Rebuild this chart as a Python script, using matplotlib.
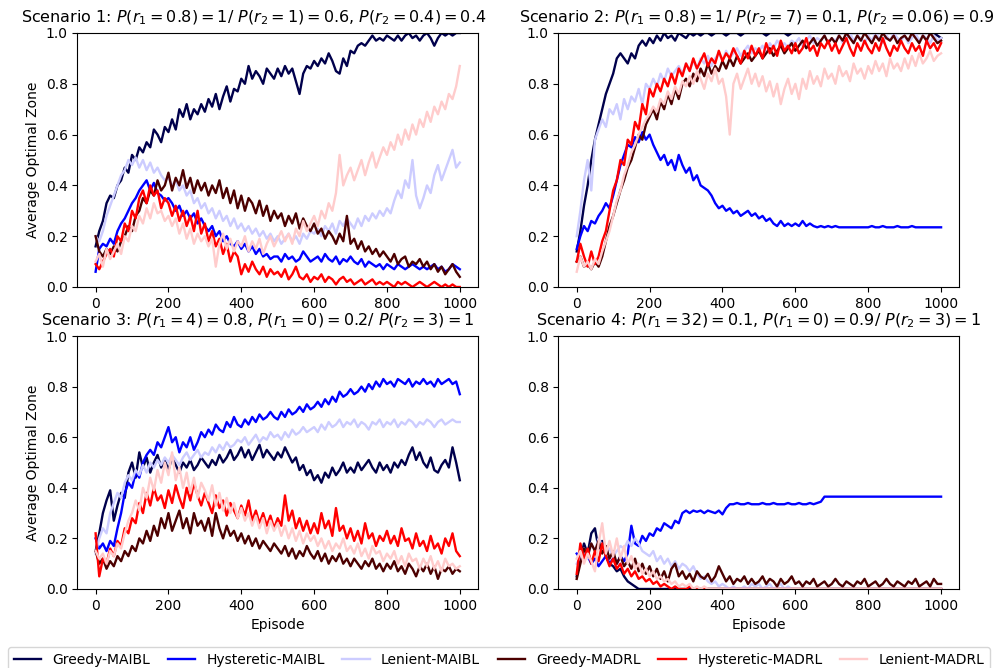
import numpy as np
import matplotlib
matplotlib.use("Agg")
import matplotlib.pyplot as plt

episodes = list(range(0, 1001, 10))

labels = ["Greedy-MAIBL", "Hysteretic-MAIBL", "Lenient-MAIBL",
          "Greedy-MADRL", "Hysteretic-MADRL", "Lenient-MADRL"]
colors = ["#00004c", "#0000ff", "#ccccff", "#4c0000", "#ff0000", "#ffcccc"]

titles = [
    r"Scenario 1: $P(r_1 = 0.8) = 1$/ $P(r_2 = 1) = 0.6$, $P(r_2 = 0.4) = 0.4$",
    r"Scenario 2: $P(r_1 = 0.8) = 1$/ $P(r_2 = 7) = 0.1$, $P(r_2 = 0.06) = 0.9$",
    r"Scenario 3: $P(r_1 = 4) = 0.8$, $P(r_1 = 0) = 0.2$/ $P(r_2 = 3) = 1$",
    r"Scenario 4: $P(r_1 = 32) = 0.1$, $P(r_1 = 0) = 0.9$/ $P(r_2 = 3) = 1$",
]

# ---------------- Scenario 1 ----------------
s1_greedy_maibl = [
    0.16, 0.22, 0.26, 0.33, 0.36, 0.35, 0.40, 0.42, 0.47, 0.45,
    0.52, 0.50, 0.55, 0.53, 0.57, 0.55, 0.62, 0.60, 0.57, 0.63,
    0.61, 0.66, 0.62, 0.70, 0.67, 0.72, 0.66, 0.70, 0.68, 0.72,
    0.69, 0.74, 0.71, 0.76, 0.70, 0.75, 0.79, 0.73, 0.78, 0.77,
    0.82, 0.80, 0.87, 0.82, 0.85, 0.83, 0.80, 0.86, 0.84, 0.82,
    0.86, 0.83, 0.87, 0.84, 0.86, 0.81, 0.76, 0.84, 0.87, 0.86,
    0.89, 0.87, 0.90, 0.88, 0.92, 0.89, 0.85, 0.84, 0.90, 0.87,
    0.93, 0.92, 0.95, 0.96, 0.95, 0.97, 0.99, 0.97, 0.98, 0.97,
    0.99, 0.98, 0.97, 0.99, 0.97, 0.99, 1.00, 0.98, 0.99, 0.97,
    0.99, 1.00, 0.98, 0.95, 0.98, 1.00, 0.99, 1.00, 0.99, 1.00,
    1.00]
s1_hyst_maibl = [
    0.06, 0.15, 0.17, 0.16, 0.19, 0.17, 0.22, 0.25, 0.27, 0.30,
    0.33, 0.35, 0.38, 0.40, 0.42, 0.38, 0.41, 0.37, 0.36, 0.34,
    0.35, 0.33, 0.30, 0.32, 0.28, 0.30, 0.27, 0.29, 0.25, 0.27,
    0.24, 0.22, 0.24, 0.20, 0.22, 0.18, 0.20, 0.17, 0.16, 0.18,
    0.15, 0.17, 0.14, 0.16, 0.13, 0.15, 0.12, 0.13, 0.11, 0.12,
    0.12, 0.10, 0.13, 0.11, 0.12, 0.10, 0.11, 0.14, 0.12, 0.10,
    0.11, 0.12, 0.10, 0.13, 0.11, 0.10, 0.12, 0.09, 0.11, 0.10,
    0.12, 0.10, 0.09, 0.11, 0.08, 0.10, 0.09, 0.08, 0.09, 0.07,
    0.09, 0.08, 0.07, 0.09, 0.08, 0.07, 0.08, 0.09, 0.08, 0.07,
    0.08, 0.07, 0.08, 0.09, 0.07, 0.08, 0.06, 0.07, 0.09, 0.08,
    0.07]
s1_len_maibl = [
    0.20, 0.18, 0.22, 0.28, 0.32, 0.36, 0.40, 0.44, 0.46, 0.50,
    0.48, 0.51, 0.47, 0.50, 0.46, 0.49, 0.45, 0.47, 0.44, 0.42,
    0.43, 0.40, 0.42, 0.38, 0.40, 0.36, 0.38, 0.33, 0.35, 0.31,
    0.33, 0.29, 0.31, 0.27, 0.30, 0.26, 0.28, 0.24, 0.27, 0.23,
    0.25, 0.22, 0.24, 0.21, 0.23, 0.20, 0.22, 0.19, 0.21, 0.18,
    0.20, 0.17, 0.19, 0.21, 0.18, 0.20, 0.17, 0.21, 0.19, 0.22,
    0.21, 0.23, 0.20, 0.24, 0.22, 0.25, 0.21, 0.26, 0.24, 0.27,
    0.25, 0.23, 0.27, 0.24, 0.28, 0.26, 0.29, 0.27, 0.30, 0.28,
    0.31, 0.29, 0.34, 0.38, 0.35, 0.42, 0.39, 0.50, 0.36, 0.31,
    0.35, 0.40, 0.37, 0.44, 0.48, 0.42, 0.46, 0.50, 0.54, 0.47,
    0.49]
s1_greedy_madrl = [
    0.20, 0.14, 0.12, 0.15, 0.13, 0.16, 0.14, 0.18, 0.20, 0.24,
    0.22, 0.28, 0.30, 0.35, 0.33, 0.38, 0.36, 0.42, 0.38, 0.40,
    0.45, 0.38, 0.43, 0.40, 0.46, 0.39, 0.43, 0.37, 0.42, 0.38,
    0.41, 0.36, 0.40, 0.37, 0.42, 0.35, 0.39, 0.33, 0.38, 0.31,
    0.36, 0.30, 0.35, 0.33, 0.29, 0.34, 0.28, 0.32, 0.26, 0.30,
    0.27, 0.29, 0.24, 0.28, 0.25, 0.29, 0.23, 0.27, 0.24, 0.22,
    0.25, 0.21, 0.23, 0.19, 0.22, 0.20, 0.17, 0.21, 0.18, 0.28,
    0.17, 0.19, 0.15, 0.18, 0.14, 0.16, 0.13, 0.15, 0.12, 0.14,
    0.12, 0.10, 0.13, 0.09, 0.11, 0.12, 0.08, 0.10, 0.09, 0.11,
    0.08, 0.10, 0.07, 0.09, 0.06, 0.08, 0.05, 0.07, 0.09, 0.06,
    0.04]
s1_hyst_madrl = [
    0.09, 0.07, 0.10, 0.13, 0.15, 0.12, 0.20, 0.18, 0.25, 0.22,
    0.30, 0.27, 0.35, 0.38, 0.33, 0.40, 0.36, 0.38, 0.31, 0.35,
    0.33, 0.28, 0.32, 0.26, 0.30, 0.24, 0.28, 0.22, 0.30, 0.21,
    0.25, 0.18, 0.22, 0.16, 0.19, 0.13, 0.17, 0.10, 0.14, 0.12,
    0.05, 0.09, 0.06, 0.10, 0.07, 0.05, 0.08, 0.04, 0.07, 0.05,
    0.06, 0.04, 0.07, 0.03, 0.05, 0.08, 0.04, 0.03, 0.05, 0.02,
    0.04, 0.03, 0.05, 0.02, 0.04, 0.03, 0.01, 0.03, 0.04, 0.02,
    0.03, 0.01, 0.02, 0.03, 0.01, 0.02, 0.03, 0.01, 0.02, 0.01,
    0.02, 0.01, 0.00, 0.02, 0.01, 0.02, 0.01, 0.00, 0.01, 0.02,
    0.01, 0.00, 0.01, 0.02, 0.01, 0.00, 0.01, 0.00, 0.01, 0.00,
    0.00]
s1_len_madrl = [
    0.10, 0.13, 0.08, 0.15, 0.11, 0.14, 0.17, 0.13, 0.20, 0.18,
    0.24, 0.22, 0.28, 0.25, 0.31, 0.27, 0.33, 0.29, 0.30, 0.26,
    0.28, 0.24, 0.27, 0.21, 0.25, 0.19, 0.23, 0.17, 0.21, 0.18,
    0.20, 0.16, 0.19, 0.08, 0.17, 0.21, 0.15, 0.19, 0.14, 0.18,
    0.16, 0.20, 0.14, 0.18, 0.15, 0.19, 0.13, 0.17, 0.20, 0.16,
    0.19, 0.22, 0.18, 0.21, 0.17, 0.23, 0.20, 0.26, 0.22, 0.25,
    0.28, 0.24, 0.30, 0.27, 0.33, 0.30, 0.37, 0.52, 0.40, 0.44,
    0.47, 0.42, 0.46, 0.50, 0.44, 0.49, 0.53, 0.47, 0.51, 0.55,
    0.52, 0.57, 0.54, 0.60, 0.56, 0.62, 0.58, 0.64, 0.60, 0.66,
    0.63, 0.69, 0.65, 0.71, 0.68, 0.73, 0.70, 0.76, 0.74, 0.79,
    0.87]

# ---------------- Scenario 2 ----------------
s2_greedy_maibl = [
    0.14, 0.22, 0.32, 0.40, 0.50, 0.58, 0.64, 0.70, 0.76, 0.80,
    0.84, 0.90, 0.92, 0.90, 0.88, 0.92, 0.90, 0.95, 0.97, 0.95,
    0.98, 0.96, 0.99, 0.97, 1.00, 0.98, 0.99, 0.97, 1.00, 0.99,
    0.98, 1.00, 0.99, 1.00, 0.99, 1.00, 1.00, 0.99, 1.00, 1.00,
    1.00, 0.99, 1.00, 1.00, 1.00, 0.99, 1.00, 1.00, 1.00, 1.00,
    1.00, 1.00, 0.99, 1.00, 1.00, 1.00, 1.00, 1.00, 0.99, 1.00,
    1.00, 1.00, 1.00, 1.00, 1.00, 1.00, 1.00, 1.00, 1.00, 1.00,
    1.00, 1.00, 1.00, 1.00, 1.00, 1.00, 1.00, 1.00, 1.00, 1.00,
    1.00, 1.00, 1.00, 1.00, 1.00, 1.00, 1.00, 1.00, 1.00, 1.00,
    1.00, 1.00, 1.00, 1.00, 1.00, 1.00, 1.00, 1.00, 1.00, 0.99,
    0.98]
s2_hyst_maibl = [
    0.15, 0.20, 0.24, 0.22, 0.26, 0.25, 0.28, 0.30, 0.33, 0.31,
    0.36, 0.42, 0.48, 0.52, 0.56, 0.55, 0.59, 0.57, 0.61, 0.58,
    0.60, 0.56, 0.53, 0.50, 0.52, 0.48, 0.50, 0.46, 0.52, 0.48,
    0.45, 0.47, 0.42, 0.44, 0.40, 0.39, 0.38, 0.36, 0.33, 0.31,
    0.32, 0.30, 0.31, 0.29, 0.30, 0.28, 0.29, 0.30, 0.28, 0.29,
    0.27, 0.28, 0.26, 0.27, 0.25, 0.24, 0.26, 0.24, 0.25, 0.24,
    0.25, 0.24, 0.26, 0.24, 0.25, 0.24, 0.235, 0.24, 0.235, 0.24,
    0.235, 0.24, 0.235, 0.235, 0.235, 0.235, 0.235, 0.235, 0.235, 0.235,
    0.235, 0.24, 0.235, 0.235, 0.24, 0.235, 0.235, 0.235, 0.24, 0.235,
    0.235, 0.235, 0.24, 0.235, 0.235, 0.235, 0.235, 0.235, 0.235, 0.235,
    0.235]
s2_len_maibl = [
    0.20, 0.30, 0.42, 0.50, 0.38, 0.58, 0.62, 0.66, 0.63, 0.70,
    0.68, 0.72, 0.66, 0.74, 0.70, 0.75, 0.73, 0.78, 0.72, 0.80,
    0.78, 0.82, 0.79, 0.84, 0.81, 0.86, 0.83, 0.85, 0.87, 0.84,
    0.88, 0.85, 0.89, 0.86, 0.90, 0.88, 0.91, 0.87, 0.90, 0.92,
    0.89, 0.93, 0.90, 0.92, 0.94, 0.91, 0.93, 0.95, 0.92, 0.94,
    0.93, 0.95, 0.92, 0.96, 0.94, 0.97, 0.95, 0.96, 0.94, 0.97,
    0.96, 0.98, 0.95, 0.97, 0.99, 0.96, 0.98, 0.97, 0.99, 0.96,
    0.98, 0.97, 0.99, 0.96, 0.98, 1.00, 0.97, 0.99, 0.98, 0.96,
    0.99, 0.97, 1.00, 0.98, 0.96, 0.99, 0.97, 1.00, 0.98, 0.97,
    0.99, 0.96, 0.98, 1.00, 0.97, 0.99, 0.98, 0.96, 0.99, 0.97,
    0.98]
s2_greedy_madrl = [
    0.10, 0.12, 0.08, 0.09, 0.07, 0.10, 0.08, 0.12, 0.18, 0.24,
    0.28, 0.33, 0.38, 0.42, 0.47, 0.50, 0.55, 0.60, 0.58, 0.64,
    0.67, 0.70, 0.66, 0.73, 0.70, 0.76, 0.72, 0.78, 0.74, 0.80,
    0.82, 0.79, 0.84, 0.81, 0.86, 0.83, 0.88, 0.84, 0.87, 0.85,
    0.89, 0.86, 0.90, 0.87, 0.91, 0.88, 0.90, 0.92, 0.89, 0.91,
    0.93, 0.90, 0.92, 0.94, 0.91, 0.93, 0.95, 0.92, 0.94, 0.96,
    0.93, 0.95, 0.97, 0.94, 0.96, 0.98, 0.95, 0.97, 0.99, 0.96,
    0.98, 0.96, 0.99, 0.97, 1.00, 0.98, 0.96, 0.99, 0.97, 1.00,
    0.98, 0.96, 0.99, 0.97, 1.00, 0.98, 0.97, 0.99, 0.96, 0.98,
    0.99, 0.97, 1.00, 0.98, 0.96, 0.99, 0.97, 1.00, 0.98, 0.96,
    0.97]
s2_hyst_madrl = [
    0.10, 0.17, 0.12, 0.08, 0.14, 0.09, 0.12, 0.18, 0.22, 0.30,
    0.38, 0.42, 0.50, 0.48, 0.58, 0.56, 0.65, 0.62, 0.72, 0.68,
    0.78, 0.75, 0.80, 0.77, 0.82, 0.79, 0.84, 0.80, 0.86, 0.83,
    0.88, 0.85, 0.90, 0.86, 0.89, 0.92, 0.87, 0.90, 0.88, 0.93,
    0.89, 0.92, 0.90, 0.94, 0.91, 0.88, 0.93, 0.90, 0.95, 0.91,
    0.94, 0.90, 0.96, 0.92, 0.95, 0.91, 0.97, 0.93, 0.95, 0.92,
    0.96, 0.92, 0.94, 0.98, 0.93, 0.95, 0.91, 0.96, 0.94, 0.97,
    0.93, 0.96, 0.92, 0.95, 0.98, 0.94, 0.91, 0.96, 0.93, 0.97,
    0.94, 0.92, 0.96, 0.93, 0.98, 0.94, 0.91, 0.95, 0.93, 0.97,
    0.94, 0.92, 0.96, 0.93, 0.95, 0.91, 0.97, 0.94, 0.96, 0.93,
    0.96]
s2_len_madrl = [
    0.06, 0.12, 0.08, 0.10, 0.07, 0.11, 0.09, 0.14, 0.18, 0.22,
    0.28, 0.34, 0.38, 0.44, 0.48, 0.53, 0.56, 0.60, 0.63, 0.66,
    0.68, 0.71, 0.69, 0.74, 0.72, 0.77, 0.74, 0.79, 0.76, 0.81,
    0.79, 0.83, 0.80, 0.85, 0.82, 0.78, 0.84, 0.81, 0.86, 0.80,
    0.82, 0.75, 0.60, 0.80, 0.84, 0.78, 0.82, 0.86, 0.80, 0.84,
    0.79, 0.83, 0.77, 0.81, 0.75, 0.80, 0.72, 0.78, 0.82, 0.76,
    0.80, 0.74, 0.82, 0.78, 0.85, 0.80, 0.83, 0.79, 0.86, 0.82,
    0.84, 0.80, 0.87, 0.83, 0.85, 0.81, 0.88, 0.84, 0.86, 0.82,
    0.87, 0.84, 0.89, 0.85, 0.88, 0.83, 0.90, 0.86, 0.88, 0.85,
    0.90, 0.86, 0.91, 0.87, 0.92, 0.88, 0.90, 0.93, 0.89, 0.91,
    0.92]

# ---------------- Scenario 3 ----------------
s3_greedy_maibl = [
    0.15, 0.22, 0.30, 0.35, 0.39, 0.27, 0.33, 0.38, 0.36, 0.46,
    0.50, 0.44, 0.54, 0.48, 0.52, 0.46, 0.50, 0.53, 0.48, 0.51,
    0.47, 0.52, 0.49, 0.46, 0.50, 0.48, 0.51, 0.47, 0.49, 0.52,
    0.50, 0.48, 0.51, 0.49, 0.53, 0.50, 0.52, 0.55, 0.51, 0.53,
    0.56, 0.52, 0.55, 0.51, 0.54, 0.57, 0.52, 0.55, 0.53, 0.51,
    0.54, 0.52, 0.56, 0.53, 0.50, 0.52, 0.47, 0.49, 0.45, 0.47,
    0.43, 0.45, 0.42, 0.46, 0.44, 0.48, 0.45, 0.47, 0.50, 0.46,
    0.48, 0.46, 0.50, 0.47, 0.49, 0.51, 0.48, 0.46, 0.50, 0.47,
    0.49, 0.46, 0.50, 0.48, 0.51, 0.49, 0.53, 0.56, 0.51, 0.54,
    0.50, 0.48, 0.52, 0.47, 0.46, 0.49, 0.51, 0.48, 0.56, 0.50,
    0.43]
s3_hyst_maibl = [
    0.20, 0.16, 0.18, 0.15, 0.19, 0.17, 0.24, 0.30, 0.38, 0.42,
    0.40, 0.46, 0.44, 0.50, 0.53, 0.55, 0.53, 0.58, 0.56, 0.60,
    0.64, 0.58, 0.60, 0.54, 0.58, 0.56, 0.60, 0.55, 0.58, 0.62,
    0.60, 0.63, 0.61, 0.65, 0.63, 0.62, 0.66, 0.64, 0.68, 0.65,
    0.64, 0.67, 0.65, 0.68, 0.66, 0.69, 0.67, 0.68, 0.70, 0.68,
    0.67, 0.70, 0.68, 0.71, 0.69, 0.70, 0.72, 0.70, 0.73, 0.71,
    0.72, 0.74, 0.72, 0.75, 0.73, 0.76, 0.74, 0.78, 0.76, 0.77,
    0.79, 0.77, 0.78, 0.80, 0.78, 0.81, 0.79, 0.82, 0.80, 0.83,
    0.81, 0.82, 0.80, 0.83, 0.82, 0.81, 0.83, 0.80, 0.82, 0.81,
    0.83, 0.81, 0.82, 0.80, 0.83, 0.81, 0.82, 0.83, 0.81, 0.82,
    0.77]
s3_len_maibl = [
    0.14, 0.20, 0.24, 0.22, 0.30, 0.34, 0.38, 0.36, 0.42, 0.45,
    0.43, 0.47, 0.45, 0.49, 0.46, 0.50, 0.48, 0.51, 0.49, 0.52,
    0.50, 0.53, 0.51, 0.49, 0.52, 0.54, 0.51, 0.53, 0.55, 0.52,
    0.54, 0.53, 0.56, 0.54, 0.57, 0.55, 0.58, 0.56, 0.57, 0.59,
    0.58, 0.60, 0.57, 0.59, 0.61, 0.58, 0.60, 0.59, 0.62, 0.60,
    0.61, 0.59, 0.62, 0.60, 0.63, 0.61, 0.62, 0.64, 0.62, 0.63,
    0.64, 0.62, 0.65, 0.63, 0.66, 0.64, 0.65, 0.67, 0.64, 0.66,
    0.65, 0.67, 0.64, 0.66, 0.65, 0.63, 0.66, 0.65, 0.67, 0.64,
    0.66, 0.65, 0.67, 0.64, 0.66, 0.65, 0.67, 0.66, 0.64, 0.66,
    0.65, 0.67, 0.66, 0.64, 0.66, 0.67, 0.65, 0.66, 0.67, 0.66,
    0.66]
s3_greedy_madrl = [
    0.15, 0.10, 0.12, 0.08, 0.11, 0.09, 0.13, 0.11, 0.15, 0.13,
    0.17, 0.15, 0.20, 0.18, 0.23, 0.19, 0.25, 0.21, 0.28, 0.24,
    0.30, 0.23, 0.27, 0.31, 0.24, 0.28, 0.22, 0.30, 0.25, 0.27,
    0.23, 0.28, 0.21, 0.30, 0.24, 0.20, 0.25, 0.21, 0.23, 0.19,
    0.22, 0.18, 0.21, 0.17, 0.20, 0.16, 0.19, 0.17, 0.15, 0.18,
    0.16, 0.14, 0.17, 0.13, 0.16, 0.12, 0.15, 0.13, 0.17, 0.14,
    0.12, 0.15, 0.11, 0.14, 0.10, 0.13, 0.11, 0.14, 0.10, 0.12,
    0.09, 0.12, 0.10, 0.08, 0.11, 0.09, 0.12, 0.08, 0.10, 0.07,
    0.10, 0.08, 0.11, 0.07, 0.09, 0.06, 0.10, 0.08, 0.05, 0.09,
    0.07, 0.10, 0.06, 0.09, 0.04, 0.08, 0.07, 0.09, 0.06, 0.08,
    0.07]
s3_hyst_madrl = [
    0.22, 0.05, 0.12, 0.10, 0.16, 0.13, 0.19, 0.17, 0.24, 0.22,
    0.28, 0.26, 0.34, 0.30, 0.38, 0.33, 0.40, 0.35, 0.37, 0.32,
    0.39, 0.34, 0.41, 0.36, 0.32, 0.40, 0.35, 0.42, 0.37, 0.33,
    0.38, 0.34, 0.30, 0.37, 0.32, 0.35, 0.29, 0.34, 0.31, 0.28,
    0.33, 0.29, 0.35, 0.27, 0.31, 0.26, 0.30, 0.25, 0.29, 0.24,
    0.28, 0.25, 0.37, 0.27, 0.31, 0.24, 0.28, 0.23, 0.27, 0.22,
    0.26, 0.22, 0.30, 0.24, 0.27, 0.21, 0.32, 0.23, 0.25, 0.20,
    0.24, 0.19, 0.23, 0.18, 0.26, 0.20, 0.22, 0.17, 0.21, 0.19,
    0.23, 0.18, 0.21, 0.17, 0.24, 0.19, 0.20, 0.16, 0.22, 0.17,
    0.19, 0.15, 0.21, 0.16, 0.18, 0.14, 0.20, 0.17, 0.22, 0.15,
    0.13]
s3_len_madrl = [
    0.15, 0.12, 0.14, 0.10, 0.15, 0.13, 0.18, 0.16, 0.22, 0.27,
    0.30, 0.35, 0.31, 0.40, 0.36, 0.44, 0.39, 0.47, 0.42, 0.50,
    0.45, 0.54, 0.43, 0.48, 0.40, 0.46, 0.38, 0.44, 0.36, 0.42,
    0.39, 0.35, 0.41, 0.33, 0.38, 0.31, 0.36, 0.30, 0.34, 0.28,
    0.32, 0.27, 0.30, 0.25, 0.29, 0.24, 0.28, 0.22, 0.27, 0.23,
    0.26, 0.21, 0.25, 0.20, 0.24, 0.19, 0.23, 0.18, 0.22, 0.19,
    0.21, 0.17, 0.20, 0.16, 0.19, 0.15, 0.18, 0.16, 0.20, 0.15,
    0.17, 0.14, 0.18, 0.13, 0.16, 0.12, 0.17, 0.14, 0.15, 0.11,
    0.14, 0.12, 0.15, 0.10, 0.13, 0.09, 0.14, 0.11, 0.12, 0.08,
    0.12, 0.09, 0.13, 0.08, 0.11, 0.07, 0.12, 0.09, 0.10, 0.08,
    0.09]

# ---------------- Scenario 4 ----------------
s4_greedy_maibl = [
    0.05, 0.12, 0.18, 0.14, 0.22, 0.24, 0.16, 0.19, 0.13, 0.10,
    0.09, 0.07, 0.08, 0.05, 0.03, 0.02, 0.01, 0.00, 0.00, 0.00,
    0.00, 0.00, 0.00, 0.00, 0.00, 0.00, 0.00, 0.00, 0.00, 0.00,
    0.00, 0.00, 0.00, 0.00, 0.00, 0.00, 0.00, 0.00, 0.00, 0.00,
    0.00, 0.00, 0.00, 0.00, 0.00, 0.00, 0.00, 0.00, 0.00, 0.00,
    0.00, 0.00, 0.00, 0.00, 0.00, 0.00, 0.00, 0.00, 0.00, 0.00,
    0.00, 0.00, 0.00, 0.00, 0.00, 0.00, 0.00, 0.00, 0.00, 0.00,
    0.00, 0.00, 0.00, 0.00, 0.00, 0.00, 0.00, 0.00, 0.00, 0.00,
    0.00, 0.00, 0.00, 0.00, 0.00, 0.00, 0.00, 0.00, 0.00, 0.00,
    0.00, 0.00, 0.00, 0.00, 0.00, 0.00, 0.00, 0.00, 0.00, 0.00,
    0.00]
s4_hyst_maibl = [
    0.14, 0.12, 0.15, 0.13, 0.10, 0.12, 0.09, 0.11, 0.13, 0.10,
    0.12, 0.10, 0.13, 0.11, 0.14, 0.25, 0.18, 0.17, 0.21, 0.19,
    0.22, 0.21, 0.24, 0.23, 0.26, 0.25, 0.24, 0.27, 0.26, 0.30,
    0.31, 0.30, 0.31, 0.305, 0.31, 0.30, 0.31, 0.305, 0.30, 0.31,
    0.295, 0.32, 0.335, 0.335, 0.34, 0.335, 0.335, 0.34, 0.335, 0.335,
    0.335, 0.34, 0.335, 0.335, 0.34, 0.335, 0.335, 0.335, 0.34, 0.335,
    0.335, 0.34, 0.335, 0.335, 0.34, 0.335, 0.34, 0.345, 0.365, 0.365,
    0.365, 0.365, 0.365, 0.365, 0.365, 0.365, 0.365, 0.365, 0.365, 0.365,
    0.365, 0.365, 0.365, 0.365, 0.365, 0.365, 0.365, 0.365, 0.365, 0.365,
    0.365, 0.365, 0.365, 0.365, 0.365, 0.365, 0.365, 0.365, 0.365, 0.365,
    0.365]
s4_len_maibl = [
    0.10, 0.13, 0.16, 0.12, 0.18, 0.15, 0.20, 0.17, 0.14, 0.16,
    0.13, 0.15, 0.17, 0.16, 0.19, 0.17, 0.20, 0.18, 0.15, 0.14,
    0.13, 0.15, 0.11, 0.13, 0.10, 0.12, 0.09, 0.11, 0.08, 0.10,
    0.09, 0.07, 0.09, 0.06, 0.04, 0.05, 0.03, 0.02, 0.03, 0.01,
    0.02, 0.01, 0.00, 0.01, 0.00, 0.00, 0.01, 0.00, 0.02, 0.01,
    0.02, 0.00, 0.01, 0.02, 0.00, 0.01, 0.02, 0.00, 0.01, 0.00,
    0.00, 0.00, 0.00, 0.00, 0.00, 0.00, 0.00, 0.00, 0.00, 0.00,
    0.00, 0.00, 0.00, 0.00, 0.00, 0.00, 0.00, 0.00, 0.00, 0.00,
    0.00, 0.00, 0.00, 0.00, 0.00, 0.00, 0.00, 0.00, 0.00, 0.00,
    0.00, 0.00, 0.00, 0.00, 0.00, 0.00, 0.00, 0.00, 0.00, 0.00,
    0.00]
s4_greedy_madrl = [
    0.04, 0.10, 0.16, 0.13, 0.18, 0.15, 0.19, 0.14, 0.17, 0.12,
    0.15, 0.10, 0.13, 0.09, 0.11, 0.08, 0.12, 0.07, 0.10, 0.06,
    0.09, 0.05, 0.08, 0.04, 0.07, 0.03, 0.08, 0.10, 0.05, 0.07,
    0.04, 0.06, 0.03, 0.07, 0.05, 0.04, 0.06, 0.03, 0.05, 0.09,
    0.06, 0.03, 0.05, 0.02, 0.04, 0.03, 0.05, 0.02, 0.04, 0.02,
    0.03, 0.05, 0.02, 0.04, 0.03, 0.01, 0.04, 0.02, 0.03, 0.05,
    0.02, 0.03, 0.01, 0.03, 0.02, 0.04, 0.01, 0.02, 0.03, 0.01,
    0.02, 0.04, 0.02, 0.01, 0.03, 0.02, 0.01, 0.03, 0.02, 0.04,
    0.01, 0.02, 0.03, 0.01, 0.02, 0.04, 0.02, 0.01, 0.03, 0.02,
    0.01, 0.03, 0.02, 0.04, 0.01, 0.02, 0.03, 0.01, 0.04, 0.02,
    0.02]
s4_hyst_madrl = [
    0.06, 0.18, 0.12, 0.16, 0.10, 0.15, 0.11, 0.18, 0.13, 0.09,
    0.12, 0.08, 0.10, 0.06, 0.08, 0.05, 0.07, 0.04, 0.05, 0.03,
    0.04, 0.02, 0.03, 0.01, 0.02, 0.01, 0.00, 0.01, 0.00, 0.00,
    0.00, 0.01, 0.00, 0.00, 0.00, 0.00, 0.00, 0.00, 0.00, 0.00,
    0.00, 0.00, 0.00, 0.00, 0.00, 0.00, 0.00, 0.00, 0.00, 0.00,
    0.00, 0.00, 0.00, 0.00, 0.00, 0.00, 0.00, 0.00, 0.00, 0.00,
    0.00, 0.00, 0.00, 0.00, 0.00, 0.00, 0.00, 0.00, 0.00, 0.00,
    0.00, 0.00, 0.00, 0.00, 0.00, 0.00, 0.00, 0.00, 0.00, 0.00,
    0.00, 0.00, 0.00, 0.00, 0.00, 0.00, 0.00, 0.00, 0.00, 0.00,
    0.00, 0.00, 0.00, 0.00, 0.00, 0.00, 0.00, 0.00, 0.00, 0.00,
    0.00]
s4_len_madrl = [
    0.12, 0.15, 0.10, 0.14, 0.11, 0.07, 0.18, 0.26, 0.14, 0.19,
    0.13, 0.20, 0.12, 0.17, 0.10, 0.13, 0.08, 0.10, 0.06, 0.08,
    0.05, 0.07, 0.04, 0.05, 0.03, 0.04, 0.02, 0.03, 0.01, 0.02,
    0.01, 0.02, 0.00, 0.01, 0.00, 0.01, 0.00, 0.00, 0.00, 0.00,
    0.00, 0.00, 0.00, 0.00, 0.00, 0.00, 0.00, 0.00, 0.00, 0.00,
    0.00, 0.00, 0.00, 0.00, 0.00, 0.00, 0.00, 0.00, 0.00, 0.00,
    0.00, 0.00, 0.00, 0.00, 0.00, 0.00, 0.00, 0.00, 0.00, 0.00,
    0.00, 0.00, 0.00, 0.00, 0.00, 0.00, 0.00, 0.00, 0.00, 0.00,
    0.00, 0.00, 0.00, 0.00, 0.00, 0.00, 0.00, 0.00, 0.00, 0.00,
    0.00, 0.00, 0.00, 0.00, 0.00, 0.00, 0.00, 0.00, 0.00, 0.00,
    0.00]

scenarios = [
    [s1_greedy_maibl, s1_hyst_maibl, s1_len_maibl, s1_greedy_madrl, s1_hyst_madrl, s1_len_madrl],
    [s2_greedy_maibl, s2_hyst_maibl, s2_len_maibl, s2_greedy_madrl, s2_hyst_madrl, s2_len_madrl],
    [s3_greedy_maibl, s3_hyst_maibl, s3_len_maibl, s3_greedy_madrl, s3_hyst_madrl, s3_len_madrl],
    [s4_greedy_maibl, s4_hyst_maibl, s4_len_maibl, s4_greedy_madrl, s4_hyst_madrl, s4_len_madrl],
]

fig = plt.figure(figsize=(9.95, 6.68), dpi=100)
W, H = 995.0, 668.0
boxes = [
    (77.4, 33, 478.0, 287),
    (558.5, 33, 959.3, 287),
    (77.4, 336, 478.0, 589),
    (558.5, 336, 959.3, 589),
]
title_x = [0.44, 0.495, 0.45, 0.5]
axes = []
for i, (x0, y0, x1, y1) in enumerate(boxes):
    ax = fig.add_axes([x0 / W, 1 - y1 / H, (x1 - x0) / W, (y1 - y0) / H])
    axes.append(ax)
    for k, series in enumerate(scenarios[i]):
        ax.plot(episodes, series, color=colors[k], lw=1.7, label=labels[k])
    ax.set_ylim(0, 1.0)
    ax.set_xlim(-50, 1050)
    ax.set_xticks([0, 200, 400, 600, 800, 1000])
    ax.set_yticks([0.0, 0.2, 0.4, 0.6, 0.8, 1.0])
    ax.set_title(titles[i], fontsize=11.5, x=title_x[i], pad=7.5)
    if i % 2 == 0:
        ax.set_ylabel("Average Optimal Zone")
    if i >= 2:
        ax.set_xlabel("Episode")

handles, leg_labels = axes[0].get_legend_handles_labels()
fig.legend(handles, leg_labels, loc="upper left", ncol=6, mode="expand",
           bbox_to_anchor=(8 / W, 1 - 647 / H, 982 / W, 0), frameon=True,
           borderaxespad=0.0)

fig.savefig("out.png", dpi=100)
